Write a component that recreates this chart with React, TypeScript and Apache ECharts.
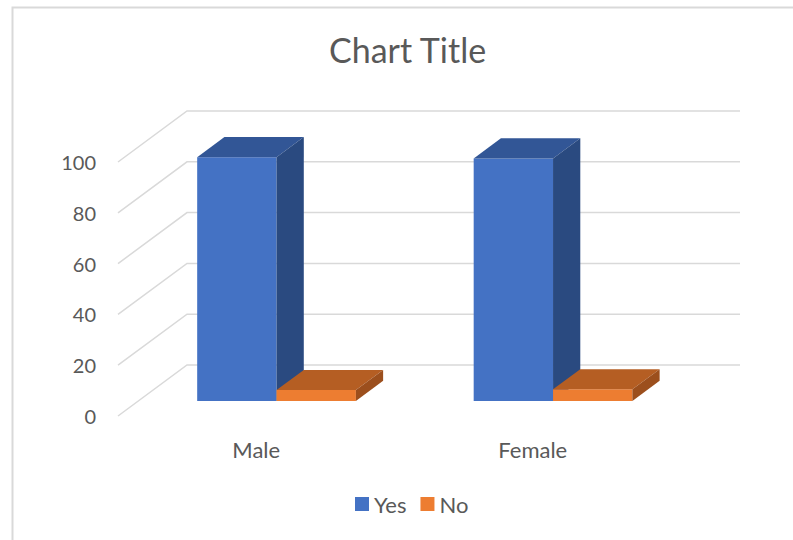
import React, { useEffect, useRef } from "react";
import * as echarts from "echarts";

const categories = ["Male", "Female"];
const seriesNames = ["Yes", "No"];
const yesValues = [96, 95.5];
const noValues = [4.3, 4.6];
const yTicks = [0, 20, 40, 60, 80, 100];

const DX = 69;
const DY = -51;
const F0 = 0.294;
const FD = 0.395;
const BAR_FRAC = 0.287;
const FONT = "Lato, 'Open Sans', sans-serif";
const TEXT = "#595959";

const palette = [
  { front: "#4472C4", top: "#325696", side: "#2A4A80" },
  { front: "#ED7D31", top: "#B55E23", side: "#9C4F1D" },
];

function barRenderer(seriesIdx: number) {
  const colors = palette[seriesIdx];
  return (params: any, api: any) => {
    const cat = api.value(0);
    const v = api.value(1);
    const base = api.coord([cat, 0]);
    const top = api.coord([cat, v]);
    const band = api.size([1, 0])[0];
    const w = band * BAR_FRAC;
    const x0 = base[0] + (seriesIdx === 0 ? -w : 0) + F0 * DX;
    const yb = base[1] + F0 * DY;
    const yt = top[1] + F0 * DY;
    const ddx = FD * DX;
    const ddy = FD * DY;
    return {
      type: "group",
      children: [
        { type: "rect", shape: { x: x0, y: yt, width: w, height: yb - yt }, style: { fill: colors.front } },
        {
          type: "polygon",
          shape: { points: [[x0, yt], [x0 + w, yt], [x0 + w + ddx, yt + ddy], [x0 + ddx, yt + ddy]] },
          style: { fill: colors.top },
        },
        {
          type: "polygon",
          shape: { points: [[x0 + w, yt], [x0 + w, yb], [x0 + w + ddx, yb + ddy], [x0 + w + ddx, yt + ddy]] },
          style: { fill: colors.side },
        },
      ],
    };
  };
}

function gridRenderer(params: any, api: any) {
  const v = api.value(1);
  const band = api.size([1, 0])[0];
  const p0 = api.coord([0, v]);
  const p1 = api.coord([categories.length - 1, v]);
  const left = p0[0] - band / 2;
  const right = p1[0] + band / 2;
  const y = p0[1];
  return {
    type: "polyline",
    shape: { points: [[left, y], [left + DX, y + DY], [right + DX, y + DY]] },
    style: { stroke: "#d9d9d9", lineWidth: 1.5, fill: "none" },
  };
}

export default function App() {
  const ref = useRef<HTMLDivElement>(null);
  useEffect(() => {
    if (!ref.current) return;
    const chart = echarts.init(ref.current, null, { renderer: "svg" });
    chart.setOption({
      animation: false,
      backgroundColor: "#ffffff",
      title: {
        text: "Chart Title",
        left: 324,
        top: 27,
        textStyle: { fontFamily: FONT, fontSize: 34, fontWeight: "normal", color: TEXT },
      },
      graphic: [
        {
          type: "rect",
          left: 10,
          top: 5,
          shape: { width: 800, height: 600 },
          style: { fill: "none", stroke: "#d9d9d9", lineWidth: 2 },
          silent: true,
        },
      ],
      legend: {
        data: seriesNames,
        top: 488,
        left: 350,
        icon: "rect",
        itemWidth: 14,
        itemHeight: 14,
        itemGap: 14,
        textStyle: { fontFamily: FONT, fontSize: 22, color: TEXT, padding: [0, 0, 0, 0] },
      },
      grid: { left: 118, right: 122, top: 162, bottom: 124, containLabel: false },
      xAxis: {
        type: "category",
        data: categories,
        axisLine: { show: false },
        axisTick: { show: false },
        splitLine: { show: false },
        axisLabel: { margin: 22, fontFamily: FONT, fontSize: 22, color: TEXT },
      },
      yAxis: {
        type: "value",
        min: 0,
        max: 100,
        interval: 20,
        axisLine: { show: false },
        axisTick: { show: false },
        splitLine: { show: false },
        axisLabel: { margin: 22, fontFamily: FONT, fontSize: 20, color: TEXT },
      },
      series: [
        {
          name: "grid",
          type: "custom",
          renderItem: gridRenderer,
          data: yTicks.map((v) => [0, v]),
          clip: false,
          silent: true,
          z: 1,
        },
        {
          name: seriesNames[0],
          type: "custom",
          renderItem: barRenderer(0),
          data: yesValues.map((v, i) => [i, v]),
          itemStyle: { color: palette[0].front },
          clip: false,
          z: 2,
        },
        {
          name: seriesNames[1],
          type: "custom",
          renderItem: barRenderer(1),
          data: noValues.map((v, i) => [i, v]),
          itemStyle: { color: palette[1].front },
          clip: false,
          z: 3,
        },
      ],
    });
    return () => chart.dispose();
  }, []);
  return (
    <div
      ref={ref}
      style={{ position: "fixed", left: 0, top: 0, width: 793, height: 540, background: "#fff" }}
    />
  );
}
